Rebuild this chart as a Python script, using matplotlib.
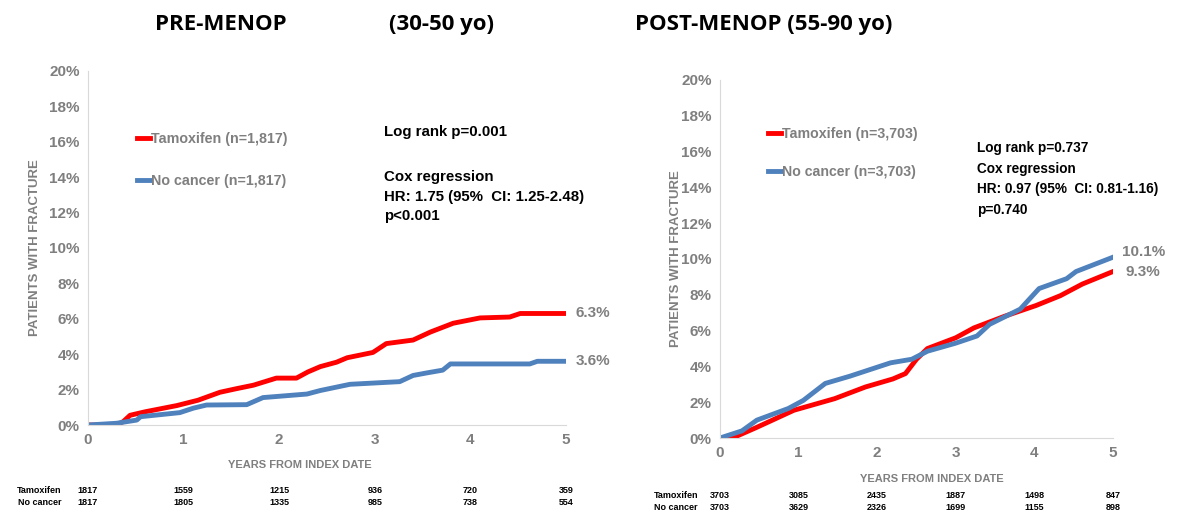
import matplotlib
matplotlib.use("Agg")
import matplotlib.pyplot as plt
from matplotlib.ticker import PercentFormatter

plt.rcParams['font.family'] = ['Liberation Sans Narrow', 'Liberation Sans', 'DejaVu Sans']

# ---- data (years, % with fracture) ----
pre_tam_t = [0, 0.3, 0.37, 0.44, 0.6, 0.93, 1.15, 1.38, 1.55, 1.73, 1.97, 2.18, 2.3, 2.43, 2.6, 2.71,
             2.98, 3.12, 3.4, 3.58, 3.7, 3.82, 4.1, 4.41, 4.52, 5.0]
pre_tam_y = [0, 0, 0.2, 0.55, 0.75, 1.1, 1.4, 1.85, 2.05, 2.25, 2.65, 2.65, 3.0, 3.3, 3.55, 3.8,
             4.1, 4.6, 4.8, 5.25, 5.5, 5.75, 6.05, 6.1, 6.3, 6.3]
pre_noc_t = [0, 0.3, 0.51, 0.55, 0.96, 1.1, 1.24, 1.66, 1.83, 2.29, 2.43, 2.74, 3.26, 3.4, 3.55,
             3.71, 3.79, 4.62, 4.7, 5.0]
pre_noc_y = [0, 0.1, 0.28, 0.47, 0.7, 0.95, 1.13, 1.15, 1.55, 1.75, 1.95, 2.3, 2.45, 2.8, 2.95,
             3.1, 3.45, 3.45, 3.6, 3.6]

post_tam_t = [0, 0.16, 0.47, 0.94, 1.46, 1.85, 2.2, 2.36, 2.5, 2.64, 3.0, 3.23, 3.62, 4.02, 4.33,
              4.61, 5.0]
post_tam_y = [0, 0, 0.6, 1.55, 2.2, 2.85, 3.3, 3.6, 4.4, 5.0, 5.6, 6.15, 6.8, 7.4, 7.95, 8.6, 9.3]
post_noc_t = [0, 0.28, 0.47, 0.87, 1.06, 1.34, 1.65, 2.17, 2.44, 2.64, 3.0, 3.27, 3.43, 3.82,
              4.06, 4.41, 4.53, 5.0]
post_noc_y = [0, 0.4, 1.0, 1.65, 2.1, 3.05, 3.45, 4.2, 4.4, 4.85, 5.3, 5.7, 6.35, 7.2, 8.35,
              8.9, 9.3, 10.1]

years = [0, 1, 2, 3, 4, 5]
pre_risk_tam = [1817, 1559, 1215, 936, 720, 359]
pre_risk_noc = [1817, 1805, 1335, 985, 738, 554]
post_risk_tam = [3703, 3085, 2435, 1887, 1498, 847]
post_risk_noc = [3703, 3629, 2326, 1699, 1155, 898]

RED = '#ff0000'
BLUE = '#4f81bd'
GRAY = '#7f7f7f'

fig = plt.figure(figsize=(11.91, 5.18), dpi=100)
ax1 = fig.add_axes([0.0739, 0.1795, 0.4014, 0.6835])
ax2 = fig.add_axes([0.6045, 0.1544, 0.3300, 0.6912])


def style(ax, xlab_pos, ylab_pos):
    ax.set_xlim(0, 5)
    ax.set_ylim(0, 20)
    ax.set_yticks(range(0, 21, 2))
    ax.set_xticks(years)
    ax.yaxis.set_major_formatter(PercentFormatter(decimals=0))
    for s in ['top', 'right']:
        ax.spines[s].set_visible(False)
    for s in ['left', 'bottom']:
        ax.spines[s].set_color('#d9d9d9')
    ax.tick_params(length=0, labelsize=11, labelcolor=GRAY, pad=6)
    for lab in ax.get_xticklabels() + ax.get_yticklabels():
        lab.set_fontweight('bold')
    ax.set_ylabel('PATIENTS WITH FRACTURE', fontsize=9.5, color=GRAY, fontweight='bold')
    ax.set_xlabel('YEARS FROM INDEX DATE', fontsize=8, color=GRAY, fontweight='bold')
    ax.yaxis.set_label_coords(ylab_pos, 0.5)
    ax.xaxis.set_label_coords(xlab_pos, -0.1)


def risk_table(ax, tam, noc, y0, dy):
    tr = ax.get_xaxis_transform()
    ax.text(-0.28, y0, 'Tamoxifen', transform=tr, ha='right', va='center', fontsize=6.5, fontweight='bold')
    ax.text(-0.28, y0 - dy, 'No cancer', transform=tr, ha='right', va='center', fontsize=6.5, fontweight='bold')
    for x, a, b in zip(years, tam, noc):
        ax.text(x, y0, str(a), transform=tr, ha='center', va='center', fontsize=6.5, fontweight='bold')
        ax.text(x, y0 - dy, str(b), transform=tr, ha='center', va='center', fontsize=6.5, fontweight='bold')


# ---- left panel ----
style(ax1, 0.443, -0.098)
ax1.plot(pre_tam_t, pre_tam_y, color=RED, lw=3.5, label='Tamoxifen (n=1,817)')
ax1.plot(pre_noc_t, pre_noc_y, color=BLUE, lw=3.5, label='No cancer (n=1,817)')
ax1.text(5.1, 6.3, '6.3%', color=GRAY, fontsize=11, fontweight='bold', va='center')
ax1.text(5.1, 3.6, '3.6%', color=GRAY, fontsize=11, fontweight='bold', va='center')
leg = ax1.legend(loc='upper left', bbox_to_anchor=(0.075, 0.865), frameon=False, handlelength=0.9,
                 handletextpad=0.1, labelspacing=1.95, fontsize=10.3, labelcolor=GRAY)
for t in leg.get_texts():
    t.set_fontweight('bold')
ax1.text(0.62, 0.828, 'Log rank p=0.001', transform=ax1.transAxes, fontsize=10.8, fontweight='bold', va='center')
ax1.text(0.62, 0.72, 'Cox regression\nHR: 1.75 (95%  CI: 1.25-2.48)\np<0.001', transform=ax1.transAxes,
         fontsize=10.8, fontweight='bold', va='top', linespacing=1.5)
risk_table(ax1, pre_risk_tam, pre_risk_noc, -0.185, 0.035)

# ---- right panel ----
style(ax2, 0.54, -0.097)
ax2.plot(post_tam_t, post_tam_y, color=RED, lw=3.5, label='Tamoxifen (n=3,703)')
ax2.plot(post_noc_t, post_noc_y, color=BLUE, lw=3.5, label='No cancer (n=3,703)')
ax2.text(5.12, 10.4, '10.1%', color=GRAY, fontsize=11, fontweight='bold', va='center')
ax2.text(5.16, 9.25, '9.3%', color=GRAY, fontsize=11, fontweight='bold', va='center')
leg = ax2.legend(loc='upper left', bbox_to_anchor=(0.09, 0.905), frameon=False, handlelength=0.9,
                 handletextpad=0.1, labelspacing=1.7, fontsize=10.2, labelcolor=GRAY)
for t in leg.get_texts():
    t.set_fontweight('bold')
ax2.text(0.655, 0.83, 'Log rank p=0.737\nCox regression\nHR: 0.97 (95%  CI: 0.81-1.16)\np=0.740',
         transform=ax2.transAxes, fontsize=9.8, fontweight='bold', va='top', linespacing=1.62)
risk_table(ax2, post_risk_tam, post_risk_noc, -0.16, 0.034)

# ---- titles ----
fig.text(0.13, 0.952, 'PRE-MENOP', fontsize=16, fontweight='bold', va='center', family=['Open Sans'])
fig.text(0.327, 0.952, '(30-50 yo)', fontsize=16, fontweight='bold', va='center', family=['Open Sans'])
fig.text(0.533, 0.952, 'POST-MENOP (55-90 yo)', fontsize=16, fontweight='bold', va='center', family=['Open Sans'])

fig.savefig('out.png', dpi=100)
